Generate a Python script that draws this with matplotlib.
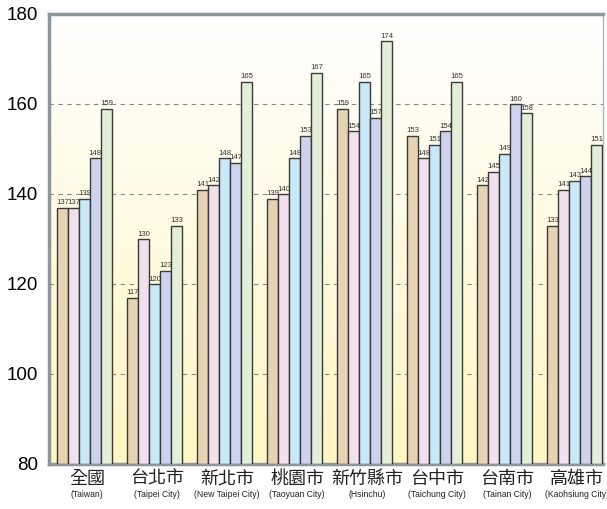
import numpy as np
import matplotlib
matplotlib.use("Agg")
import matplotlib.pyplot as plt
from matplotlib.colors import LinearSegmentedColormap

# 各縣市五個年度的數值
regions_zh = ["全國", "台北市", "新北市", "桃園市", "新竹縣市", "台中市", "台南市", "高雄市"]
regions_en = ["(Taiwan)", "(Taipei City)", "(New Taipei City)", "(Taoyuan City)",
              "(Hsinchu)", "(Taichung City)", "(Tainan City)", "(Kaohsiung City)"]
series_1 = [137, 117, 141, 139, 159, 153, 142, 133]
series_2 = [137, 130, 142, 140, 154, 148, 145, 141]
series_3 = [139, 120, 148, 148, 165, 151, 149, 143]
series_4 = [148, 123, 147, 153, 157, 154, 160, 144]
series_5 = [159, 133, 165, 167, 174, 165, 158, 151]
y_ticks = [80, 100, 120, 140, 160, 180]

series = [series_1, series_2, series_3, series_4, series_5]
colors = ["#E5D3B3", "#F2E0EE", "#C9E8F8", "#CDD3EE", "#E3EFD9"]

CJK = ["Noto Sans CJK TC", "DejaVu Sans"]
LATIN = "Liberation Sans"

fig = plt.figure(figsize=(6.07, 5.09), dpi=100)
ax = fig.add_axes([49 / 607, 45 / 509, 554 / 607, 450 / 509])

# background: white at top fading into pale yellow at the base
grad = LinearSegmentedColormap.from_list("bg", ["#FFFFFF", "#FFF6C2"])
ax.imshow(np.linspace(0, 1, 256).reshape(-1, 1), cmap=grad, aspect="auto",
          extent=(-0.6, 7.5, 80, 180), origin="upper", zorder=0)

x = np.arange(len(regions_zh))
w = 11 / 70
for k, (vals, c) in enumerate(zip(series, colors)):
    pos = x + (k - 2) * w
    ax.bar(pos, np.array(vals) - 80, bottom=80, width=w, color=c,
           edgecolor="#3a3a3a", linewidth=1.0, zorder=3)
    for px, v in zip(pos, vals):
        ax.text(px, v + 0.3, str(v), ha="center", va="bottom", fontsize=5.6,
                color="#333333", family=LATIN, zorder=4)

for yv in y_ticks[1:-1]:
    ax.axhline(yv, color="#8a8a8a", linewidth=0.8, linestyle=(0, (4, 4)), zorder=1)

ax.set_xlim(-0.506, 7.408)
ax.set_ylim(80, 180)
ax.set_yticks(y_ticks)
ax.set_yticklabels([str(t) for t in y_ticks], fontsize=13.5, family=LATIN)
ax.tick_params(axis="y", length=0, pad=8)
ax.set_xticks([])

for name in ["left", "bottom", "top"]:
    ax.spines[name].set_color("#8C969B")
    ax.spines[name].set_linewidth(2.5)
ax.spines["right"].set_color("#B0B6B9")
ax.spines["right"].set_linewidth(1.0)

for xi, zh, en in zip(x, regions_zh, regions_en):
    ax.text(xi + 0.04, -0.033, zh, transform=ax.get_xaxis_transform(), ha="center",
            va="center", fontsize=13, family=CJK, color="#222222")
    ax.text(xi + 0.04, -0.068, en, transform=ax.get_xaxis_transform(), ha="center",
            va="center", fontsize=6.2, family=LATIN, color="#222222")

fig.savefig("out.png", dpi=100, facecolor="white")
